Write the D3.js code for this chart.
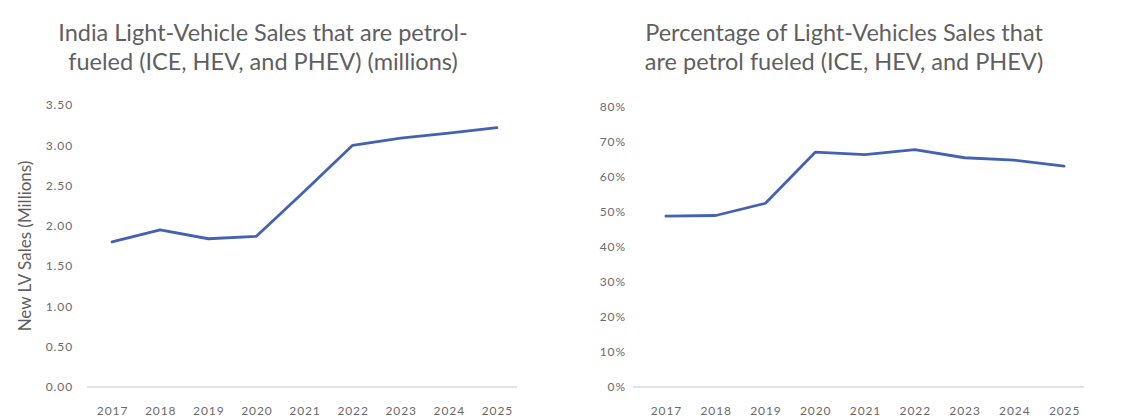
<!DOCTYPE html>
<html>
<head>
<meta charset="utf-8">
<script src="https://cdn.jsdelivr.net/npm/d3@7"></script>
<style>
  html, body { margin: 0; padding: 0; background: #ffffff; }
  svg { display: block; font-family: Lato, "Open Sans", sans-serif; }
</style>
</head>
<body>
<svg id="chart" width="1123" height="419"></svg>
<script>
// Model years shared by both panels
const years = ["2017", "2018", "2019", "2020", "2021", "2022", "2023", "2024", "2025"];

// Petrol-fueled light-vehicle sales in India, millions of units
const petrolSales = [1.80, 1.95, 1.84, 1.87, 2.43, 3.00, 3.09, 3.15, 3.22];

// Share of light-vehicle sales that are petrol-fueled, percent
const petrolShare = [48.8, 49.0, 52.5, 67.1, 66.4, 67.8, 65.5, 64.8, 63.1];

// Axis tick values
const salesTicks = [0, 0.5, 1.0, 1.5, 2.0, 2.5, 3.0, 3.5];
const shareTicks = [0, 10, 20, 30, 40, 50, 60, 70, 80];

// Title lines
const salesTitle = ["India Light-Vehicle Sales that are petrol-", "fueled (ICE, HEV, and PHEV) (millions)"];
const shareTitle = ["Percentage of Light-Vehicles Sales that", "are petrol fueled (ICE, HEV, and PHEV)"];
const salesAxisTitle = "New LV Sales (Millions)";

const svg = d3.select("#chart");
const textColor = "#5f5f5f";
const tickColor = "#6a6a6a";
const lineColor = "#4461b2";

function styleTicks(sel) {
  sel.attr("fill", tickColor)
    .style("font-size", "12px")
    .style("letter-spacing", "0.9px")
    .style("font-family", "Lato, 'Open Sans', sans-serif");
}

function panel(opts) {
  const g = svg.append("g");

  const x = d3.scalePoint()
    .domain(years)
    .range([opts.x0, opts.x1])
    .padding(0.5);

  const y = d3.scaleLinear()
    .domain([0, opts.yMax])
    .range([opts.yBottom, opts.yTop]);

  // Title
  const title = g.append("text")
    .attr("x", opts.titleX)
    .attr("text-anchor", "middle")
    .attr("fill", textColor)
    .style("font-size", "23.5px");
  opts.title.forEach((line, i) => {
    title.append("tspan")
      .attr("x", opts.titleX)
      .attr("y", 41 + i * 29)
      .text(line);
  });

  // Value axis (labels only)
  const yAxis = d3.axisLeft(y)
    .tickValues(opts.ticks)
    .tickSize(0)
    .tickPadding(0)
    .tickFormat(opts.format);
  g.append("g")
    .attr("transform", `translate(${opts.labelRight},0)`)
    .call(yAxis)
    .call(a => a.select(".domain").remove())
    .call(a => styleTicks(a.selectAll("text")));

  // Category axis with light baseline
  const xAxis = d3.axisBottom(x).tickSize(0).tickPadding(0);
  g.append("g")
    .attr("transform", `translate(0,${y(0)})`)
    .call(xAxis)
    .call(a => a.select(".domain")
      .attr("d", `M${opts.base0},0H${opts.base1}`)
      .attr("stroke", "#d9d9d9")
      .attr("stroke-width", 1.3))
    .call(a => styleTicks(a.selectAll("text")
      .attr("dy", null)
      .attr("y", 28)));

  // Series line
  const line = d3.line()
    .x((d, i) => x(years[i]))
    .y(d => y(d));
  g.append("path")
    .datum(opts.values)
    .attr("fill", "none")
    .attr("stroke", lineColor)
    .attr("stroke-width", 2.8)
    .attr("stroke-linejoin", "round")
    .attr("stroke-linecap", "round")
    .attr("d", line);

  return { g, x, y };
}

const left = panel({
  x0: 88, x1: 521, base0: 87, base1: 517,
  yBottom: 387, yTop: 105, yMax: 3.5,
  ticks: salesTicks,
  format: d3.format(".2f"),
  labelRight: 73,
  titleX: 263,
  title: salesTitle,
  values: petrolSales
});

panel({
  x0: 641, x1: 1089, base0: 633, base1: 1084,
  yBottom: 387, yTop: 107, yMax: 80,
  ticks: shareTicks,
  format: d => d + "%",
  labelRight: 626,
  titleX: 844,
  title: shareTitle,
  values: petrolShare
});

// Vertical title on the sales axis
left.g.append("text")
  .attr("transform", `translate(31,${(387 + 105) / 2}) rotate(-90)`)
  .attr("text-anchor", "middle")
  .attr("fill", textColor)
  .style("font-size", "17px")
  .text(salesAxisTitle);
</script>
</body>
</html>
